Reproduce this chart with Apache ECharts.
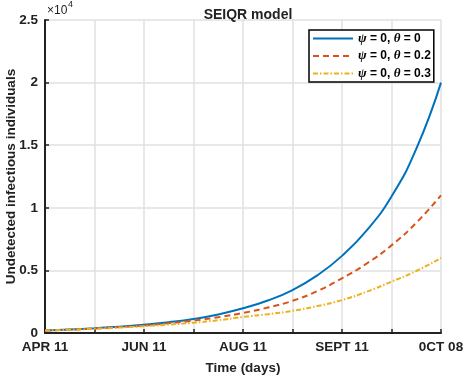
<!DOCTYPE html>
<html>
<head>
<meta charset="utf-8">
<script src="https://cdn.jsdelivr.net/npm/echarts@6/dist/echarts.min.js"></script>
<style>
  html, body { margin: 0; padding: 0; background: #fff; }
  #chart_container { width: 466px; height: 375px; }
</style>
</head>
<body>
<div id="chart_container"></div>
<script>
// days since APR 11, one point every 11.25 days
var days = [0, 11.25, 22.5, 33.75, 45, 56.25, 67.5, 78.75, 90, 101.25, 112.5, 123.75, 135, 146.25, 157.5, 168.75, 180];
var tick_labels = ['APR 11', 'JUN 11', 'AUG 11', 'SEPT 11', '0CT 08'];
var series_names = ['ψ = 0, θ = 0', 'ψ = 0, θ = 0.2', 'ψ = 0, θ = 0.3'];
var theta_0 = [200, 280, 380, 500, 660, 860, 1120, 1480, 1970, 2600, 3430, 4600, 6160, 8200, 10900, 14700, 20000];
var theta_02 = [200, 270, 360, 470, 600, 780, 990, 1260, 1600, 2030, 2570, 3350, 4370, 5550, 7000, 8800, 11000];
var theta_03 = [200, 260, 340, 430, 540, 670, 820, 1020, 1280, 1500, 1770, 2150, 2630, 3300, 4100, 4950, 6000];

var pairs = function (ys) {
  var out = [];
  for (var i = 0; i < days.length; i++) {
    out.push([days[i], ys[i]]);
  }
  return out;
};

var font = 'Liberation Sans, Arial, sans-serif';
var ink = '#222222';
var grid_color = '#e0e0e0';

var chart = echarts.init(document.getElementById('chart_container'));
var lineSeries = function (name, ys, color, type) {
  return {
    name: name,
    type: 'line',
    data: pairs(ys),
    smooth: true,
    symbol: 'none',
    lineStyle: { color: color, width: 2, type: type },
    itemStyle: { color: color }
  };
};

chart.setOption({
  animation: false,
  title: {
    text: 'SEIQR model',
    left: 243,
    textAlign: 'center',
    top: 3,
    textStyle: { fontFamily: font, fontSize: 14, fontWeight: 'bold', color: ink }
  },
  grid: { left: 45, right: 25, top: 20, bottom: 42, outerBoundsMode: 'none' },
  legend: {
    orient: 'vertical',
    left: 309,
    top: 30,
    padding: [2, 3, 2, 3],
    itemWidth: 40,
    itemHeight: 12,
    itemGap: 4.5,
    backgroundColor: '#fff',
    borderColor: '#000',
    borderWidth: 1.5,
    borderRadius: 0,
    data: series_names,
    itemStyle: { opacity: 0 },
    formatter: function (name) {
      return name.replace('ψ', '{i|ψ}').replace('θ', '{i|θ}');
    },
    textStyle: {
      fontFamily: font,
      fontSize: 12,
      fontWeight: 'bold',
      color: '#000',
      rich: {
        i: { fontFamily: 'Liberation Serif, serif', fontStyle: 'italic', fontWeight: 'bold', fontSize: 13, color: '#000' }
      }
    }
  },
  xAxis: {
    type: 'value',
    min: 0,
    max: 180,
    interval: 22.5,
    name: 'Time (days)',
    nameLocation: 'middle',
    nameGap: 28,
    nameTextStyle: { fontFamily: font, fontSize: 13.5, fontWeight: 'bold', color: ink },
    axisLine: { lineStyle: { color: ink, width: 2 } },
    axisTick: { inside: true, length: 4, lineStyle: { color: ink, width: 1.5 } },
    axisLabel: {
      fontFamily: font,
      fontSize: 13.5,
      fontWeight: 'bold',
      color: ink,
      margin: 7,
      showMinLabel: true,
      showMaxLabel: true,
      formatter: function (v) {
        return v % 45 === 0 ? tick_labels[v / 45] : '';
      }
    },
    splitLine: { show: true, lineStyle: { color: grid_color, width: 1.5 } }
  },
  yAxis: {
    type: 'value',
    min: 0,
    max: 25000,
    interval: 5000,
    name: 'Undetected infectious individuals',
    nameLocation: 'middle',
    nameGap: 27,
    nameMoveOverlap: false,
    nameTextStyle: { fontFamily: font, fontSize: 13.5, fontWeight: 'bold', color: ink },
    axisLine: { show: true, lineStyle: { color: ink, width: 2 } },
    axisTick: { show: true, inside: true, length: 4, lineStyle: { color: ink, width: 1.5 } },
    axisLabel: {
      fontFamily: font,
      fontSize: 13.5,
      fontWeight: 'bold',
      color: ink,
      margin: 7,
      formatter: function (v) {
        return String(v / 10000);
      }
    },
    splitLine: { show: true, lineStyle: { color: grid_color, width: 1.5 } }
  },
  graphic: [
    { type: 'text', left: 47, top: 5, style: { text: '×10', fontFamily: font, fontSize: 12, fill: ink } },
    { type: 'text', left: 68, top: 0, style: { text: '4', fontFamily: font, fontSize: 9, fill: ink } }
  ],
  series: [
    lineSeries(series_names[0], theta_0, '#0072BD', 'solid'),
    lineSeries(series_names[1], theta_02, '#D95319', [6, 4]),
    lineSeries(series_names[2], theta_03, '#EDB120', [5, 2, 1.5, 2])
  ]
});
</script>
</body>
</html>
